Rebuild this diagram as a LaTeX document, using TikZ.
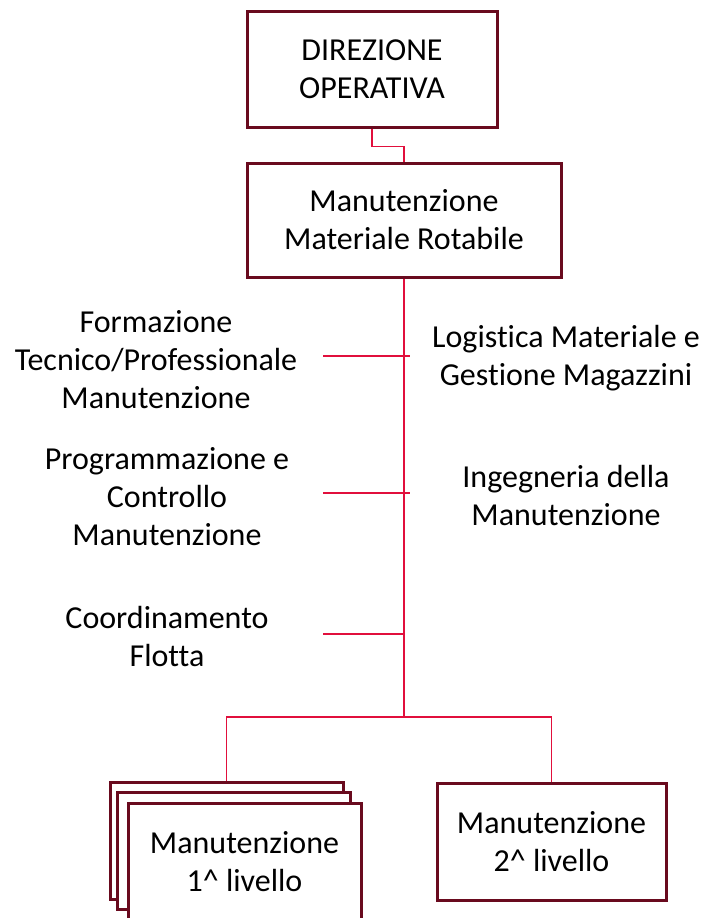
\documentclass[tikz,border=0pt]{standalone}
\usepackage{fontspec}
\setmainfont{Carlito}[Ligatures=NoCommon]
\definecolor{boxred}{RGB}{105,10,30}
\definecolor{linkred}{RGB}{225,15,60}
\tikzset{
	box/.style={draw=boxred, line width=3pt, fill=white, align=center, inner sep=0pt},
	link/.style={draw=linkred, line width=1.3pt},
	lbl/.style={align=center},
}
\begin{document}
\begin{tikzpicture}[x=1pt,y=-1pt,font=\fontsize{32}{38}\selectfont]
	\useasboundingbox (0,0) rectangle (705,918);
	
	\node[box, minimum width=250pt, minimum height=116pt] (dir) at (372,69) {DIREZIONE\\OPERATIVA};
	\node[box, minimum width=314pt, minimum height=114pt] (mmr) at (404,220) {Manutenzione\\Materiale Rotabile};
	
	\node[lbl] (form) at (156,360) {Formazione\\Tecnico/Professionale\\Manutenzione};
	\node[lbl] (prog) at (167,497) {Programmazione e\\Controllo\\Manutenzione};
	\node[lbl] (coord) at (167,636) {Coordinamento\\Flotta};
	\node[lbl] (logi) at (566,358) {Logistica Materiale e\\Gestione Magazzini};
	\node[lbl] (ing) at (566,496) {Ingegneria della\\Manutenzione};
	
	% stacked boxes
	\node[box, minimum width=233pt, minimum height=117pt] (lvlc) at (226.5,840.5) {};
	\node[box, minimum width=233pt, minimum height=117pt] (lvlb) at (233.5,850.5) {};
	\node[box, minimum width=233pt, minimum height=117pt] (lvl1) at (244.5,861.5) {Manutenzione\\1\textasciicircum{} livello};
	\node[box, minimum width=229pt, minimum height=117pt] (lvl2) at (551.5,841.5) {Manutenzione\\2\textasciicircum{} livello};
	
	\draw[link] (dir.south) -- ++(0,18) -| (mmr.north);
	
	\coordinate (split) at (404,717);
	\draw[link] (mmr.south) -- (split);
	\draw[link] (split) -| (lvlc.north);
	\draw[link] (split) -| (lvl2.north);
	
	\coordinate (t1) at (323,356);
	\coordinate (t2) at (323,493);
	\coordinate (t3) at (323,634);
	\draw[link]
	(t1) -- ++(87,0)
	(t2) -- ++(87,0)
	(t3) -- (t3 -| split);
	
\end{tikzpicture}
\end{document}
